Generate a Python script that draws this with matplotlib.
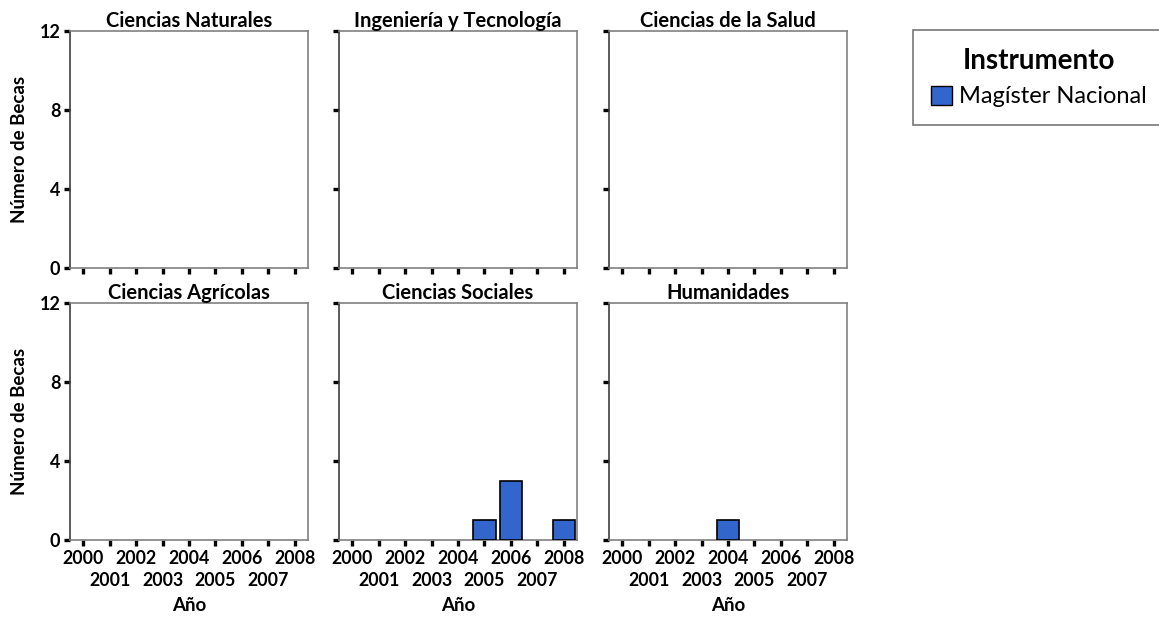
import matplotlib.pyplot as plt
from matplotlib.patches import Patch

plt.rcParams['font.family'] = ['Lato', 'DejaVu Sans']

# Data
years = [2000, 2001, 2002, 2003, 2004, 2005, 2006, 2007, 2008]
fields = ["Ciencias Naturales", "Ingeniería y Tecnología", "Ciencias de la Salud",
          "Ciencias Agrícolas", "Ciencias Sociales", "Humanidades"]
naturales = [0, 0, 0, 0, 0, 0, 0, 0, 0]
ingenieria = [0, 0, 0, 0, 0, 0, 0, 0, 0]
salud = [0, 0, 0, 0, 0, 0, 0, 0, 0]
agricolas = [0, 0, 0, 0, 0, 0, 0, 0, 0]
sociales = [0, 0, 0, 0, 0, 1, 3, 0, 1]
humanidades = [0, 0, 0, 0, 1, 0, 0, 0, 0]
series = [naturales, ingenieria, salud, agricolas, sociales, humanidades]
instrument = "Magíster Nacional"
y_ticks = [0, 4, 8, 12]

bar_color = "#3366CC"
W, H = 1159, 619
fig = plt.figure(figsize=(W / 100, H / 100), dpi=100)

lefts = [70, 339, 609]
tops = [31, 303]
aw, ah = 238, 237

# even years on first row (major ticks), odd years on second row (minor ticks)
even_pos = [i for i in range(len(years)) if i % 2 == 0]
odd_pos = [i for i in range(len(years)) if i % 2 == 1]

for k, (name, vals) in enumerate(zip(fields, series)):
    r, c = divmod(k, 3)
    ax = fig.add_axes([lefts[c] / W, 1 - (tops[r] + ah) / H, aw / W, ah / H])
    xs = [i for i, v in enumerate(vals) if v > 0]
    hs = [v for v in vals if v > 0]
    ax.bar(xs, hs, width=0.84, color=bar_color, edgecolor="black", linewidth=1.2, zorder=3)
    ax.set_xlim(-0.5, len(years) - 0.5)
    ax.set_ylim(0, 12)
    ax.set_yticks(y_ticks)
    ax.set_xticks(even_pos)
    ax.set_xticks(odd_pos, minor=True)
    for s in ax.spines.values():
        s.set_color("#808080")
        s.set_linewidth(1.2)
    ax.spines['left'].set_color("#404040")
    ax.tick_params(axis='both', which='both', length=4, width=2.4, color="black",
                   direction="out", pad=3)
    ax.tick_params(axis='x', which='minor', pad=19)
    ax.set_title(name, fontsize=14.5, fontweight="bold", pad=3)
    if c == 0:
        ax.set_yticklabels([str(t) for t in y_ticks], fontsize=13, fontweight="bold")
        ax.set_ylabel("Número de Becas", fontsize=13.5, fontweight="bold", labelpad=8)
    else:
        ax.set_yticklabels([])
    if r == 1:
        ax.set_xticklabels([str(years[i]) for i in even_pos], fontsize=12.8, fontweight="bold")
        ax.set_xticklabels([str(years[i]) for i in odd_pos], minor=True,
                           fontsize=12.8, fontweight="bold")
        ax.set_xlabel("Año", fontsize=13.5, fontweight="bold", labelpad=6)
    else:
        ax.set_xticklabels([])
        ax.set_xticklabels([], minor=True)

handles = [Patch(facecolor=bar_color, edgecolor="black", label=instrument)]
leg = fig.legend(handles=handles, title="Instrumento", loc="upper left",
                 bbox_to_anchor=(913 / W, 1 - 30 / H), fontsize=17,
                 title_fontproperties={'weight': 'bold', 'size': 20},
                 frameon=True, fancybox=False, edgecolor="#555555",
                 handlelength=0.9, handleheight=0.9, handletextpad=0.3,
                 borderpad=0.75, borderaxespad=0)
leg.get_frame().set_linewidth(1.2)

plt.savefig("out.png", dpi=100)
